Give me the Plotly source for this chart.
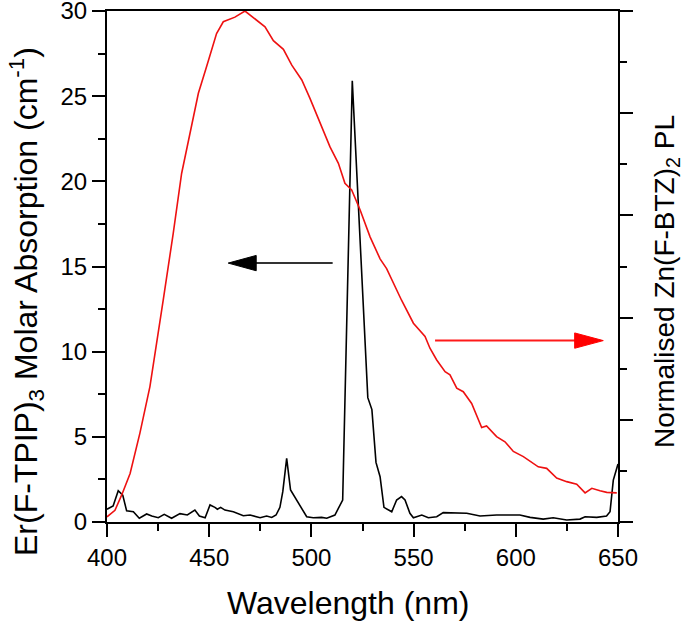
import plotly.graph_objects as go

# Er(F-TPIP)3 molar absorption (left axis, cm^-1)
abs_wl = [400, 403, 405.5, 407.7, 409.6, 412.9, 415.8, 419.4, 421.9, 425.1, 428, 431.6, 435.7, 439.3,
          443, 445.2, 448, 450.4, 452.8, 454, 455.6, 457.7, 461.8, 466.7, 470, 474.9, 478.1, 480.6,
          482.7, 484.6, 486, 487.9, 489.8, 492.8, 495.2, 497.7, 500.9, 505, 507.5, 511.5, 515.3,
          520, 527.6, 529.6, 531.6, 533.6, 535.5, 539.3, 541.7, 544.1, 545.8, 548.2, 549.9, 554,
          557.2, 561.3, 564.5, 576, 582.5, 590.6, 602, 607, 613.4, 618.3, 624.9, 631.4, 633.9,
          639.6, 644.4, 646.1, 647.7, 650]
abs_val = [0.75, 0.94, 1.84, 1.58, 0.66, 0.6, 0.22, 0.47, 0.35, 0.25, 0.45, 0.22, 0.49, 0.41,
           0.7, 0.35, 0.25, 1.0, 0.86, 0.75, 0.86, 0.7, 0.6, 0.37, 0.41, 0.25, 0.35, 0.27,
           0.41, 0.86, 1.78, 3.74, 1.88, 1.29, 0.8, 0.31, 0.25, 0.27, 0.22, 0.41, 1.29,
           25.9, 7.3, 6.6, 3.5, 2.66, 0.86, 0.6, 1.29, 1.49, 1.29, 0.51, 0.25, 0.41,
           0.25, 0.31, 0.55, 0.51, 0.35, 0.41, 0.41, 0.27, 0.17, 0.25, 0.12, 0.17, 0.31,
           0.27, 0.35, 0.6, 2.46, 3.4]

# Normalised Zn(F-BTZ)2 PL (right axis)
pl_wl = [400, 403.9, 407.2, 411.3, 416.1, 421, 427.5, 430, 432.4, 436.5, 440.6, 444.7, 448.7,
         453.6, 456.9, 462.6, 467.5, 473.2, 477.3, 481.4, 486.3, 490.4, 495.3, 499.3, 504.2,
         509.1, 513.2, 516.4, 519.7, 523.8, 528.7, 533.6, 536.8, 539.3, 544.1, 549.9, 555.6,
         558, 561.3, 565.4, 567.8, 571.1, 574.3, 578.4, 583.3, 585.7, 590.6, 594.7, 598.8,
         603.7, 606.9, 611, 615.1, 620, 624.9, 629.8, 633.9, 637.2, 641.2, 644.5, 649.4]
pl_val = [0.010, 0.023, 0.053, 0.095, 0.174, 0.265, 0.434, 0.5, 0.565, 0.682, 0.761, 0.839, 0.891,
          0.956, 0.979, 0.988, 1.0, 0.982, 0.969, 0.942, 0.925, 0.894, 0.865, 0.829, 0.78,
          0.734, 0.702, 0.663, 0.65, 0.611, 0.558, 0.515, 0.496, 0.474, 0.434, 0.389, 0.363,
          0.34, 0.317, 0.294, 0.288, 0.262, 0.255, 0.232, 0.185, 0.188, 0.167, 0.157, 0.138,
          0.128, 0.119, 0.108, 0.105, 0.086, 0.079, 0.074, 0.057, 0.066, 0.061, 0.058, 0.057]

x_ticks = [400, 450, 500, 550, 600, 650]
y_ticks = [0, 5, 10, 15, 20, 25, 30]

FONT = "Liberation Sans, Arial, sans-serif"

fig = go.Figure()
fig.add_trace(go.Scatter(x=pl_wl, y=pl_val, mode="lines", yaxis="y2",
                         line=dict(color="#ee1111", width=1.6), showlegend=False))
fig.add_trace(go.Scatter(x=abs_wl, y=abs_val, mode="lines",
                         line=dict(color="black", width=1.6), showlegend=False))

axis_common = dict(showline=True, linecolor="black", linewidth=2, ticks="outside",
                   ticklen=13, tickwidth=2, tickcolor="black", showgrid=False, zeroline=False,
                   automargin=False, ticklabeloverflow="allow",
                   tickfont=dict(family=FONT, size=24, color="black"))

fig.update_layout(
    width=685, height=621,
    margin=dict(l=107, r=67, t=11, b=99, autoexpand=False),
    paper_bgcolor="white", plot_bgcolor="white",
    font=dict(family=FONT, color="black"),
    xaxis=dict(range=[400, 650], tickvals=x_ticks, mirror=True,
               minor=dict(dtick=25, ticklen=7, tickwidth=2, tickcolor="black", ticks="outside"),
               **axis_common),
    yaxis=dict(range=[0, 30], tickvals=y_ticks,
               minor=dict(dtick=2.5, ticklen=7, tickwidth=2, tickcolor="black", ticks="outside"),
               **axis_common),
    yaxis2=dict(range=[0, 1], dtick=0.2, overlaying="y", side="right", showticklabels=False,
                minor=dict(dtick=0.1, ticklen=7, tickwidth=2, tickcolor="black", ticks="outside"),
                **axis_common),
)

# Axis titles
fig.add_annotation(text="Wavelength (nm)", xref="paper", yref="paper", x=0.4716, y=-0.1585,
                   xanchor="center", yanchor="middle", showarrow=False,
                   font=dict(family=FONT, size=32, color="black"))
fig.add_annotation(text="Er(F-TPIP)<sub>3</sub> Molar Absorption (cm<sup>-1</sup>)",
                   xref="paper", yref="paper", x=-0.1585, y=0.4305, textangle=-90,
                   xanchor="center", yanchor="middle", showarrow=False,
                   font=dict(family=FONT, size=32, color="black"))
fig.add_annotation(text="Normalised Zn(F-BTZ)<sub>2</sub> PL",
                   xref="paper", yref="paper", x=1.0959, y=0.4697, textangle=-90,
                   xanchor="center", yanchor="middle", showarrow=False,
                   font=dict(family=FONT, size=28, color="black"))

# Arrows (indicating which axis belongs to which curve)
fig.add_shape(type="line", xref="x", yref="y", x0=510.4, x1=470, y0=15.2, y1=15.2,
              line=dict(color="#333333", width=2))
fig.add_shape(type="path", xref="x", yref="y",
              path="M 459.3,15.2 L 473.0,15.65 L 473.0,14.75 Z",
              fillcolor="black", line=dict(color="black", width=1))
fig.add_shape(type="line", xref="x", yref="y", x0=560.5, x1=632, y0=10.65, y1=10.65,
              line=dict(color="#ff1a1a", width=2))
fig.add_shape(type="path", xref="x", yref="y",
              path="M 642.8,10.65 L 628.8,11.1 L 628.8,10.2 Z",
              fillcolor="#ff0000", line=dict(color="#ff0000", width=1))

fig.write_html("out.html", config={"displayModeBar": False},
               post_script="document.body.style.margin='0';")
